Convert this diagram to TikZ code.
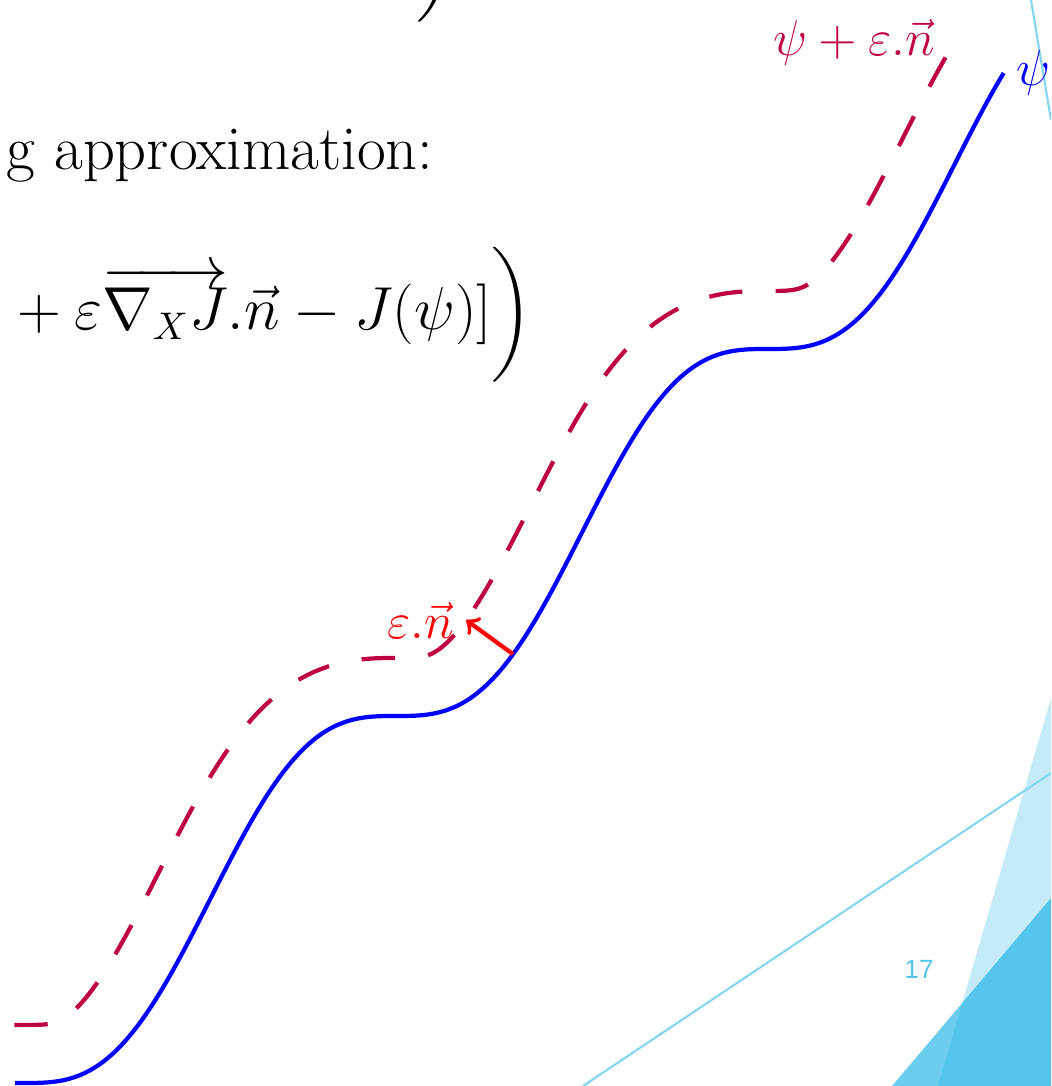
\documentclass[tikz,border=0pt]{standalone}
\usepackage{amsmath,amssymb}
\usepackage{fontspec}
\newfontfamily\slidesans{Liberation Sans}
\usepackage{tikz}
\definecolor{facetlight}{RGB}{197,235,248}
\definecolor{facetdark}{RGB}{17,175,228}
\definecolor{facetline}{RGB}{134,213,240}
\definecolor{facetnum}{RGB}{86,197,235}
\begin{document}
\begin{tikzpicture}[every node/.style={font=\fontsize{13.7}{16}\selectfont},
	slidetext/.style={inner sep=0pt, anchor=base west, font=\fontsize{16}{19}\selectfont},
	stair/.style={blue, very thick},
	shifted/.style={purple, very thick, dash pattern=on 9.5pt off 9.5pt},
	normalvec/.style={red, line width=1.2pt, ->},
	declare function={stx(\t)=0.24+3.72*\t/(2*pi); sty(\t)=0.03+3.67*(\t-sin(\t r))/(2*pi);
		nrm(\t)=sqrt(3.72^2+(3.67*(1-cos(\t r)))^2); nx(\t)=-0.58*3.67*(1-cos(\t r))/nrm(\t); ny(\t)=0.58*3.72/nrm(\t);}]
	\useasboundingbox (0,0) rectangle (10.51,10.86);
	\clip (0,0) rectangle (10.51,10.86);
	\fill[facetlight] (10.51,3.88) -- (9.38,0) -- (10.51,0) -- cycle;
	\fill[facetdark, fill opacity=0.62] (10.51,1.88) -- (8.92,0) -- (10.51,0) -- cycle;
	\draw[facetline, line width=0.6pt] (5.83,0) -- (10.51,3.13);
	\draw[facetline, line width=0.6pt] (10.31,10.86) -- (10.51,9.66);
	\node[font=\slidesans\fontsize{7.5}{8}\selectfont, text=facetnum] (pageno) at (9.19,1.17) {17};

	\node[slidetext] (prevparen) at (4.16,11.16) {$\bigg)$};
	\node[slidetext, font=\fontsize{17.8}{21}\selectfont] (approx) at (0.06,9.16) {g approximation:};
	\node[slidetext] (formula) at (0.03,7.56) {${}+\varepsilon\overrightarrow{\nabla_X J}.\vec{n}-J(\psi)]\bigg)$};

	\draw[stair] plot[domain=-0.152:16.55, samples=240, variable=\t] ({stx(\t)}, {sty(\t)});
	\draw[shifted] plot[domain=-0.152:16.55, samples=240, variable=\t] ({stx(\t)+nx(\t)}, {sty(\t)+ny(\t)});
	\coordinate (psiend) at ({stx(16.55)}, {sty(16.55)});
	\coordinate (dashend) at ({stx(16.55)+nx(16.55)}, {sty(16.55)+ny(16.55)});
	\coordinate (nbase) at ({stx(8.26)}, {sty(8.26)});
	\coordinate (ntip) at ({stx(8.26)+nx(8.26)}, {sty(8.26)+ny(8.26)});
	\draw[normalvec] (nbase) -- (ntip);
	\node[red, left] (epsn) at (ntip) {$\varepsilon.\vec{n}$};
	\node[purple, left] (psieps) at ([xshift=-2pt]dashend) {$\psi+\varepsilon.\vec{n}$};
	\node[blue, right] (psi) at (psiend) {$\psi$};
\end{tikzpicture}
\end{document}
